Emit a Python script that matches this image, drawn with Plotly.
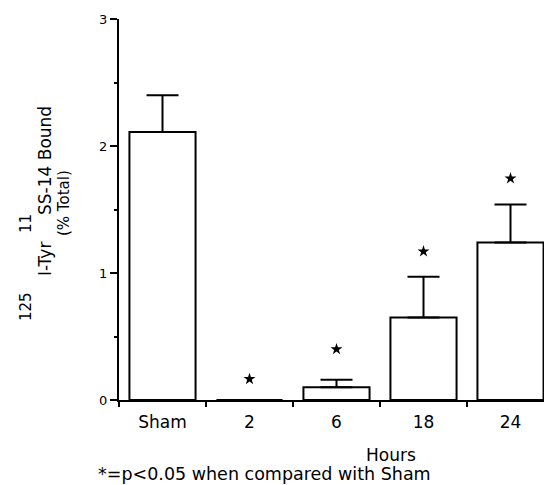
import plotly.graph_objects as go

categories = ["Sham", "2", "6", "18", "24"]
bound_mean = [2.11, 0.0, 0.10, 0.65, 1.24]
bound_err = [0.29, None, 0.06, 0.32, 0.30]
star_cats = ["2", "6", "18", "24"]
star_y = [0.165, 0.40, 1.17, 1.745]
y_ticks = [0, 1, 2, 3]

FONT = "DejaVu Sans"
OFF = 8  # default page body margin
W, H = 552 - OFF, 485 - OFF
L, R, T, B = 119 - OFF, 0, 19 - OFF, 85
PW, PH = W - L - R, H - T - B
PLOT_LEFT_PAGE = L + OFF
PLOT_BOTTOM_PAGE = H - B + OFF


def px(x):
    return (x - PLOT_LEFT_PAGE) / PW


def py(y):
    return (PLOT_BOTTOM_PAGE - y) / PH


fig = go.Figure()
fig.add_trace(go.Bar(
    x=categories, y=bound_mean, width=0.76,
    marker=dict(color="white", line=dict(color="black", width=2)),
    error_y=dict(type="data", array=bound_err, arrayminus=[0] * len(bound_err),
                 symmetric=False, color="black", thickness=2, width=16),
    showlegend=False,
))
fig.add_trace(go.Scatter(
    x=star_cats, y=star_y, mode="markers",
    marker=dict(symbol="star", size=9, color="black"),
    showlegend=False,
))

ann = [
    dict(text="SS-14 Bound", x=px(45), y=py(161), size=17),
    dict(text="I-Tyr", x=px(45), y=py(259), size=17),
    dict(text="(% Total)", x=px(64), y=py(203), size=15),
    dict(text="11", x=px(26), y=py(224), size=15),
    dict(text="125", x=px(26), y=py(307), size=15),
]
for a in ann:
    fig.add_annotation(text=a["text"], x=a["x"], y=a["y"], xref="paper", yref="paper",
                       textangle=-90, showarrow=False, xanchor="center", yanchor="middle",
                       font=dict(family=FONT, size=a["size"], color="black"))

fig.add_annotation(text="Hours", x=px(391), y=py(455), xref="paper", yref="paper",
                   showarrow=False, xanchor="center", yanchor="middle",
                   font=dict(family=FONT, size=17, color="black"))
fig.add_annotation(text="*=p<0.05 when compared with Sham", x=px(96), y=py(474),
                   xref="paper", yref="paper", showarrow=False, xanchor="left",
                   yanchor="middle", font=dict(family=FONT, size=17.5, color="black"))

fig.update_xaxes(
    type="category", categoryorder="array", categoryarray=categories,
    range=[-0.5, -0.5 + PW / 87.0], tickson="boundaries",
    ticks="outside", ticklen=5, tickwidth=1.5, tickcolor="black",
    showline=True, linewidth=2, linecolor="black", showgrid=False, zeroline=False,
    tickfont=dict(family=FONT, size=17, color="black"), ticklabelstandoff=6,
)
fig.update_yaxes(
    range=[0, 3], tickvals=y_ticks, ticktext=[str(v) for v in y_ticks],
    ticks="outside", ticklen=7, tickwidth=1.5, tickcolor="black",
    minor=dict(dtick=0.5, ticks="outside", ticklen=3, tickwidth=1.5, tickcolor="black", showgrid=False),
    showline=True, linewidth=2, linecolor="black", showgrid=False, zeroline=False,
    tickfont=dict(family=FONT, size=13, color="black"),
)
fig.update_layout(
    template="none",
    width=W, height=H, autosize=False,
    margin=dict(l=L, r=R, t=T, b=B, pad=0),
    paper_bgcolor="white", plot_bgcolor="white",
    font=dict(family=FONT, color="black"),
)
fig.write_html("out.html")
